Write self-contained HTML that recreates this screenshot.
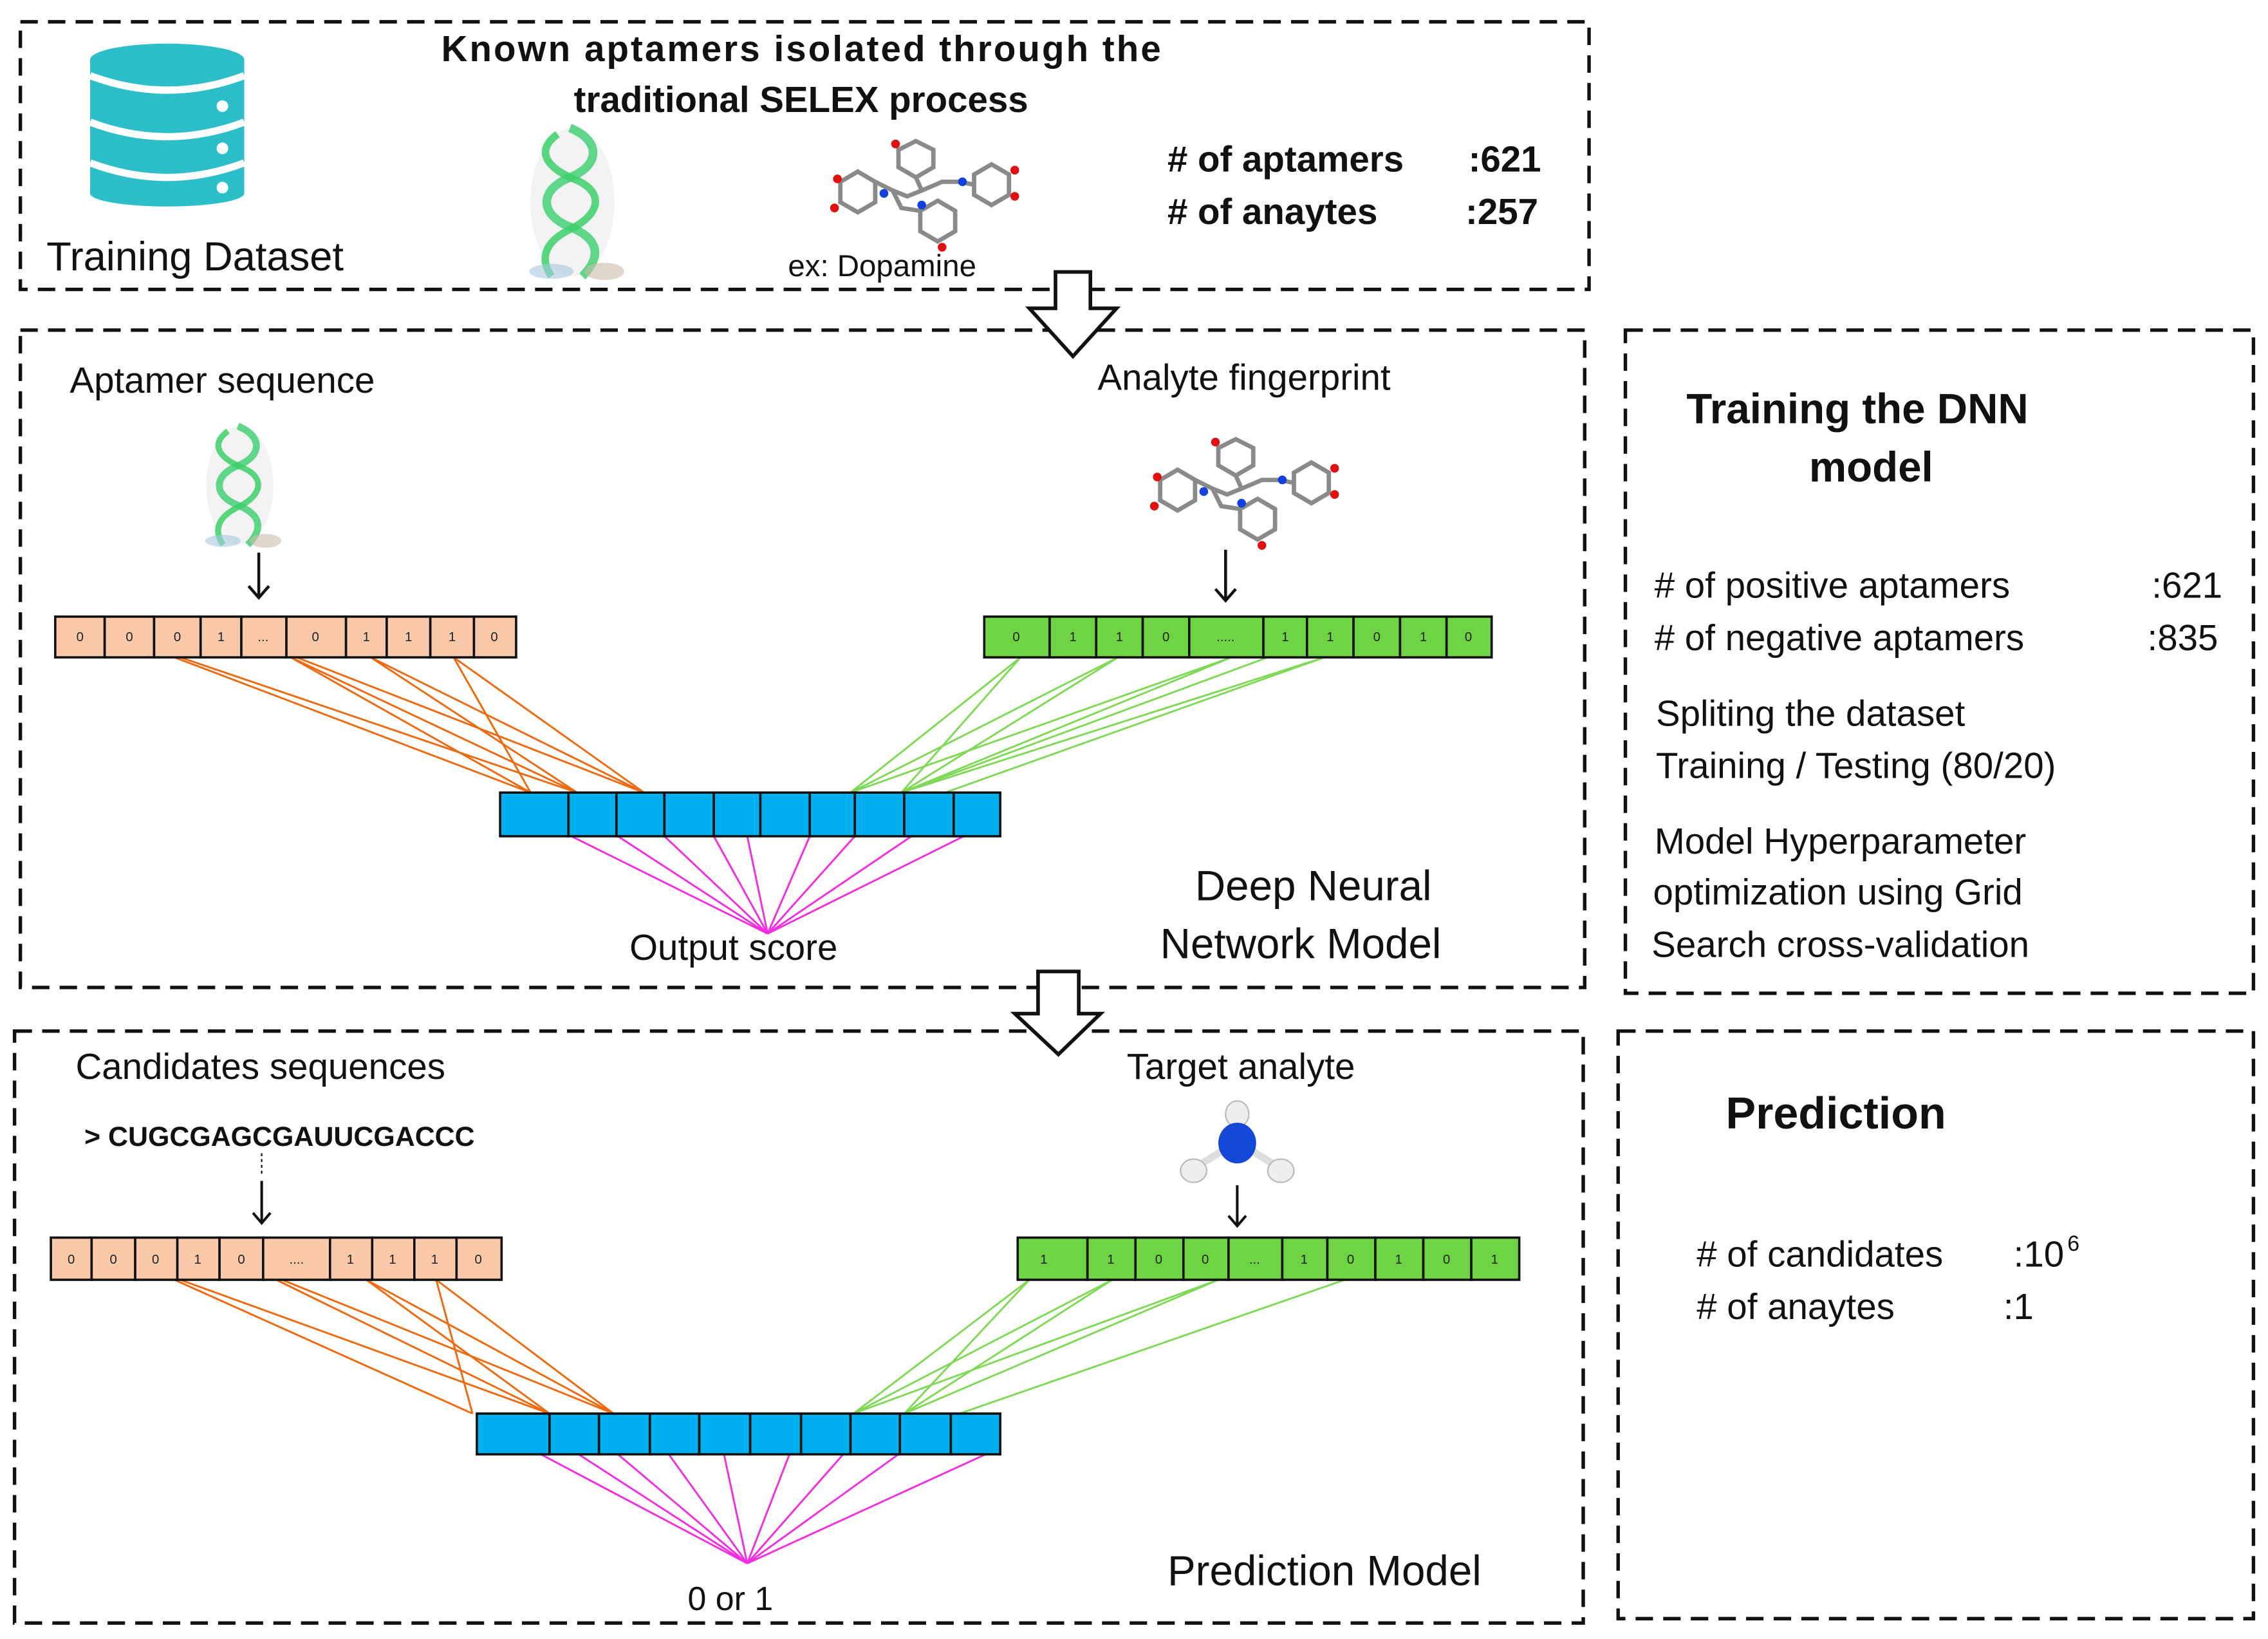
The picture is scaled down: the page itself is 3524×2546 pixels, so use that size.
<!DOCTYPE html>
<html><head><meta charset="utf-8"><style>
html,body{margin:0;padding:0;background:#fff}
svg{display:block}
text{font-family:"Liberation Sans",sans-serif;fill:#111}
.b{font-weight:bold}
.c{font-size:9px;text-anchor:middle;fill:#222}
</style></head><body>
<svg width="3524" height="2546" viewBox="0 0 1560 1127" preserveAspectRatio="none" xmlns="http://www.w3.org/2000/svg">
<defs>
<g id="helix">
 <ellipse cx="22" cy="60" rx="34" ry="60" fill="#ddd" opacity="0.35"/>
 <path d="M20,0 C45,10 45,30 20,40 C-5,50 -5,70 20,80 C45,90 45,105 30,120" fill="none" stroke="#5fd68a" stroke-width="7"/>
 <path d="M10,5 C-8,18 0,32 25,42 C48,52 45,70 20,82 C0,92 -5,105 5,120" fill="none" stroke="#3ccf6a" stroke-width="6" opacity="0.85"/>
 <ellipse cx="5" cy="116" rx="18" ry="6" fill="#aac8dd" opacity="0.6"/>
 <ellipse cx="48" cy="116" rx="16" ry="7" fill="#ccbbaa" opacity="0.6"/>
</g>
<g id="mol" stroke="#8a8a8a" stroke-width="3" fill="none">
 <polygon points="10,30 22,23 34,30 34,44 22,51 10,44"/>
 <polygon points="102,25 114,18 126,25 126,39 114,46 102,39"/>
 <polygon points="65,50 77,43 89,50 89,64 77,71 65,64"/>
 <polygon points="50,8 62,2 74,8 74,20 62,27 50,20"/>
 <polyline points="34,30 46,36 56,40 66,36 80,30 92,30 102,32"/>
 <polyline points="62,27 66,36"/>
 <polyline points="46,36 52,48 65,50"/>
 <circle cx="6" cy="48" r="3" fill="#e01010" stroke="none"/>
 <circle cx="8" cy="28" r="3" fill="#e01010" stroke="none"/>
 <circle cx="130" cy="22" r="3" fill="#e01010" stroke="none"/>
 <circle cx="130" cy="40" r="3" fill="#e01010" stroke="none"/>
 <circle cx="80" cy="75" r="3" fill="#e01010" stroke="none"/>
 <circle cx="48" cy="4" r="3" fill="#e01010" stroke="none"/>
 <circle cx="40" cy="38" r="3" fill="#1040e0" stroke="none"/>
 <circle cx="94" cy="30" r="3" fill="#1040e0" stroke="none"/>
 <circle cx="66" cy="46" r="3" fill="#1040e0" stroke="none"/>
</g>
</defs>

<g fill="none" stroke="#111" stroke-width="2.4" stroke-dasharray="12,7">
 <rect x="14" y="15" width="1079" height="184"/>
 <rect x="14" y="227" width="1076" height="452"/>
 <rect x="1118" y="227" width="432" height="456"/>
 <rect x="10" y="709" width="1079" height="407"/>
 <rect x="1113" y="709" width="437" height="404"/>
</g>

<!-- database icon -->
<rect x="62" y="41" width="106" height="92" fill="#2dbfc9"/>
<ellipse cx="115" cy="133" rx="53" ry="9" fill="#2dbfc9"/>
<path d="M62,52 Q115,72 168,52" fill="none" stroke="#fff" stroke-width="5"/>
<path d="M62,84 Q115,104 168,84" fill="none" stroke="#fff" stroke-width="5"/>
<path d="M62,112 Q115,132 168,112" fill="none" stroke="#fff" stroke-width="5"/>
<ellipse cx="115" cy="41" rx="53" ry="11" fill="#2dbfc9"/>
<g fill="#fff"><circle cx="153" cy="73" r="4"/><circle cx="153" cy="102" r="4"/><circle cx="153" cy="129" r="4"/></g>

<text x="32" y="186" font-size="28">Training Dataset</text>
<text x="551" y="42" font-size="25" class="b" text-anchor="middle" textLength="495">Known aptamers isolated through the</text>
<text x="551" y="77" font-size="25" class="b" text-anchor="middle">traditional SELEX process</text>
<use href="#helix" transform="translate(375,88) scale(0.85)"/>
<use href="#mol" x="568" y="95"/>
<text x="542" y="190" font-size="21">ex: Dopamine</text>
<text x="803" y="118" font-size="25" class="b"># of aptamers</text>
<text x="1010" y="118" font-size="25" class="b">:621</text>
<text x="803" y="154" font-size="25" class="b"># of anaytes</text>
<text x="1008" y="154" font-size="25" class="b">:257</text>

<path d="M726,187 L750,187 L750,212 L768,212 L738,245 L708,212 L726,212 Z" fill="#fff" stroke="#111" stroke-width="2.5"/>
<path d="M714,668 L742,668 L742,697 L757,697 L728,725 L698,697 L714,697 Z" fill="#fff" stroke="#111" stroke-width="2.5"/>

<text x="48" y="270" font-size="25">Aptamer sequence</text>
<text x="755" y="268" font-size="25">Analyte fingerprint</text>
<use href="#helix" transform="translate(150,293) scale(0.68)"/>
<use href="#mol" x="788" y="300"/>
<g stroke="#111" stroke-width="2" fill="none">
 <line x1="178" y1="380" x2="178" y2="411"/><polyline points="171,403 178,411 185,403"/>
 <line x1="843" y1="378" x2="843" y2="413"/><polyline points="836,405 843,413 850,405"/>
</g>
<g stroke="#ee6a10" stroke-width="1.3">
 <line x1="120" y1="452" x2="365" y2="545"/><line x1="124" y1="452" x2="397" y2="545"/>
 <line x1="200" y1="452" x2="365" y2="545"/><line x1="200" y1="452" x2="397" y2="545"/><line x1="204" y1="452" x2="443" y2="545"/>
 <line x1="255" y1="452" x2="397" y2="545"/><line x1="255" y1="452" x2="443" y2="545"/>
 <line x1="312" y1="452" x2="365" y2="545"/><line x1="312" y1="452" x2="443" y2="545"/>
</g>
<g stroke="#7fd957" stroke-width="1.3">
 <line x1="702" y1="452" x2="585" y2="545"/><line x1="702" y1="452" x2="620" y2="545"/>
 <line x1="769" y1="452" x2="585" y2="545"/><line x1="769" y1="452" x2="620" y2="545"/>
 <line x1="847" y1="452" x2="585" y2="545"/><line x1="847" y1="452" x2="620" y2="545"/>
 <line x1="872" y1="452" x2="620" y2="545"/><line x1="911" y1="452" x2="620" y2="545"/><line x1="911" y1="452" x2="650" y2="545"/>
</g>
<g stroke="#f030e0" stroke-width="1.3">
 <line x1="393" y1="575" x2="528" y2="642"/><line x1="425" y1="575" x2="528" y2="642"/><line x1="457" y1="575" x2="528" y2="642"/>
 <line x1="491" y1="575" x2="528" y2="642"/><line x1="514" y1="575" x2="528" y2="642"/><line x1="557" y1="575" x2="528" y2="642"/>
 <line x1="588" y1="575" x2="528" y2="642"/><line x1="627" y1="575" x2="528" y2="642"/><line x1="663" y1="575" x2="528" y2="642"/>
</g>
<g stroke="#111" stroke-width="1.6" fill="#f9c9a9">
 <rect x="38" y="424" width="34" height="28"/><rect x="72" y="424" width="34" height="28"/><rect x="106" y="424" width="32" height="28"/>
 <rect x="138" y="424" width="28" height="28"/><rect x="166" y="424" width="31" height="28"/><rect x="197" y="424" width="41" height="28"/>
 <rect x="238" y="424" width="28" height="28"/><rect x="266" y="424" width="30" height="28"/><rect x="296" y="424" width="30" height="28"/>
 <rect x="326" y="424" width="29" height="28"/>
</g>
<text x="55" y="441" class="c">0</text><text x="89" y="441" class="c">0</text><text x="122" y="441" class="c">0</text><text x="152" y="441" class="c">1</text><text x="181" y="441" class="c">...</text><text x="217" y="441" class="c">0</text><text x="252" y="441" class="c">1</text><text x="281" y="441" class="c">1</text><text x="311" y="441" class="c">1</text><text x="340" y="441" class="c">0</text>
<g stroke="#111" stroke-width="1.6" fill="#6fd443">
 <rect x="677" y="424" width="45" height="28"/><rect x="722" y="424" width="32" height="28"/><rect x="754" y="424" width="32" height="28"/>
 <rect x="786" y="424" width="32" height="28"/><rect x="818" y="424" width="51" height="28"/><rect x="869" y="424" width="30" height="28"/>
 <rect x="899" y="424" width="32" height="28"/><rect x="931" y="424" width="32" height="28"/><rect x="963" y="424" width="32" height="28"/>
 <rect x="995" y="424" width="31" height="28"/>
</g>
<text x="699" y="441" class="c">0</text><text x="738" y="441" class="c">1</text><text x="770" y="441" class="c">1</text><text x="802" y="441" class="c">0</text><text x="843" y="441" class="c">.....</text><text x="884" y="441" class="c">1</text><text x="915" y="441" class="c">1</text><text x="947" y="441" class="c">0</text><text x="979" y="441" class="c">1</text><text x="1010" y="441" class="c">0</text>
<g stroke="#111" stroke-width="1.6" fill="#00b0f0">
 <rect x="344" y="545" width="47" height="30"/><rect x="391" y="545" width="33" height="30"/><rect x="424" y="545" width="33" height="30"/>
 <rect x="457" y="545" width="34" height="30"/><rect x="491" y="545" width="32" height="30"/><rect x="523" y="545" width="34" height="30"/>
 <rect x="557" y="545" width="31" height="30"/><rect x="588" y="545" width="34" height="30"/><rect x="622" y="545" width="34" height="30"/>
 <rect x="656" y="545" width="32" height="30"/>
</g>
<text x="433" y="660" font-size="25">Output score</text>
<text x="822" y="619" font-size="29">Deep Neural</text>
<text x="798" y="659" font-size="29">Network Model</text>

<text x="1160" y="291" font-size="29" class="b">Training the DNN</text>
<text x="1287" y="331" font-size="29" class="b" text-anchor="middle">model</text>
<text x="1138" y="411" font-size="25"># of positive aptamers</text><text x="1480" y="411" font-size="25">:621</text>
<text x="1138" y="447" font-size="25"># of negative aptamers</text><text x="1477" y="447" font-size="25">:835</text>
<text x="1139" y="499" font-size="25">Spliting  the dataset</text>
<text x="1139" y="535" font-size="25">Training / Testing (80/20)</text>
<text x="1138" y="587" font-size="25">Model Hyperparameter</text>
<text x="1137" y="622" font-size="25">optimization using Grid</text>
<text x="1136" y="658" font-size="25">Search cross-validation</text>

<text x="52" y="742" font-size="25">Candidates sequences</text>
<text x="58" y="788" font-size="19" class="b">&gt; CUGCGAGCGAUUCGACCC</text>
<text x="775" y="742" font-size="25">Target analyte</text>
<g>
 <line x1="851" y1="768" x2="851" y2="783" stroke="#ddd" stroke-width="5"/>
 <line x1="851" y1="785" x2="822" y2="803" stroke="#ddd" stroke-width="5"/>
 <line x1="851" y1="785" x2="880" y2="803" stroke="#ddd" stroke-width="5"/>
 <ellipse cx="851" cy="766" rx="8" ry="9" fill="#eee" stroke="#bbb"/>
 <ellipse cx="821" cy="805" rx="9" ry="8" fill="#eee" stroke="#bbb"/>
 <ellipse cx="881" cy="805" rx="9" ry="8" fill="#eee" stroke="#bbb"/>
 <ellipse cx="851" cy="786" rx="13" ry="14" fill="#1448d8"/>
</g>
<g stroke="#111" stroke-width="1.8" fill="none">
 <line x1="180" y1="793" x2="180" y2="808" stroke-dasharray="2,2" stroke-width="1"/>
 <line x1="180" y1="812" x2="180" y2="841"/><polyline points="174,834 180,841 186,834"/>
 <line x1="851" y1="815" x2="851" y2="843"/><polyline points="845,836 851,843 857,836"/>
</g>
<g stroke="#ee6a10" stroke-width="1.3">
 <line x1="120" y1="880" x2="325" y2="972"/><line x1="124" y1="880" x2="378" y2="972"/>
 <line x1="190" y1="880" x2="378" y2="972"/><line x1="194" y1="880" x2="422" y2="972"/>
 <line x1="252" y1="880" x2="378" y2="972"/><line x1="252" y1="880" x2="422" y2="972"/>
 <line x1="300" y1="880" x2="325" y2="972"/><line x1="300" y1="880" x2="422" y2="972"/>
</g>
<g stroke="#7fd957" stroke-width="1.3">
 <line x1="708" y1="880" x2="587" y2="972"/><line x1="708" y1="880" x2="622" y2="972"/>
 <line x1="765" y1="880" x2="587" y2="972"/><line x1="765" y1="880" x2="622" y2="972"/>
 <line x1="838" y1="880" x2="587" y2="972"/><line x1="838" y1="880" x2="622" y2="972"/>
 <line x1="925" y1="880" x2="660" y2="972"/>
</g>
<g stroke="#f030e0" stroke-width="1.3">
 <line x1="372" y1="1000" x2="514" y2="1075"/><line x1="398" y1="1000" x2="514" y2="1075"/><line x1="425" y1="1000" x2="514" y2="1075"/>
 <line x1="460" y1="1000" x2="514" y2="1075"/><line x1="498" y1="1000" x2="514" y2="1075"/><line x1="543" y1="1000" x2="514" y2="1075"/>
 <line x1="580" y1="1000" x2="514" y2="1075"/><line x1="618" y1="1000" x2="514" y2="1075"/><line x1="678" y1="1000" x2="514" y2="1075"/>
</g>
<g stroke="#111" stroke-width="1.6" fill="#f9c9a9">
 <rect x="35" y="851" width="28" height="29"/><rect x="63" y="851" width="30" height="29"/><rect x="93" y="851" width="29" height="29"/>
 <rect x="122" y="851" width="29" height="29"/><rect x="151" y="851" width="30" height="29"/><rect x="181" y="851" width="46" height="29"/>
 <rect x="227" y="851" width="29" height="29"/><rect x="256" y="851" width="29" height="29"/><rect x="285" y="851" width="29" height="29"/>
 <rect x="314" y="851" width="31" height="29"/>
</g>
<text x="49" y="869" class="c">0</text><text x="78" y="869" class="c">0</text><text x="107" y="869" class="c">0</text><text x="136" y="869" class="c">1</text><text x="166" y="869" class="c">0</text><text x="204" y="869" class="c">....</text><text x="241" y="869" class="c">1</text><text x="270" y="869" class="c">1</text><text x="299" y="869" class="c">1</text><text x="329" y="869" class="c">0</text>
<g stroke="#111" stroke-width="1.6" fill="#6fd443">
 <rect x="700" y="851" width="48" height="29"/><rect x="748" y="851" width="33" height="29"/><rect x="781" y="851" width="33" height="29"/>
 <rect x="814" y="851" width="31" height="29"/><rect x="845" y="851" width="37" height="29"/><rect x="882" y="851" width="31" height="29"/>
 <rect x="913" y="851" width="33" height="29"/><rect x="946" y="851" width="33" height="29"/><rect x="979" y="851" width="33" height="29"/>
 <rect x="1012" y="851" width="33" height="29"/>
</g>
<text x="718" y="869" class="c">1</text><text x="764" y="869" class="c">1</text><text x="797" y="869" class="c">0</text><text x="829" y="869" class="c">0</text><text x="863" y="869" class="c">...</text><text x="897" y="869" class="c">1</text><text x="929" y="869" class="c">0</text><text x="962" y="869" class="c">1</text><text x="995" y="869" class="c">0</text><text x="1028" y="869" class="c">1</text>
<g stroke="#111" stroke-width="1.6" fill="#00b0f0">
 <rect x="328" y="972" width="50" height="28"/><rect x="378" y="972" width="34" height="28"/><rect x="412" y="972" width="35" height="28"/>
 <rect x="447" y="972" width="34" height="28"/><rect x="481" y="972" width="35" height="28"/><rect x="516" y="972" width="35" height="28"/>
 <rect x="551" y="972" width="34" height="28"/><rect x="585" y="972" width="34" height="28"/><rect x="619" y="972" width="35" height="28"/>
 <rect x="654" y="972" width="34" height="28"/>
</g>
<text x="473" y="1107" font-size="23">0 or 1</text>
<text x="803" y="1090" font-size="29">Prediction Model</text>

<text x="1187" y="776" font-size="31" class="b">Prediction</text>
<text x="1167" y="871" font-size="25"># of candidates</text><text x="1385" y="871" font-size="25">:10</text><text x="1422" y="860" font-size="15">6</text>
<text x="1167" y="907" font-size="25"># of anaytes</text><text x="1378" y="907" font-size="25">:1</text>
</svg>
</body></html>
